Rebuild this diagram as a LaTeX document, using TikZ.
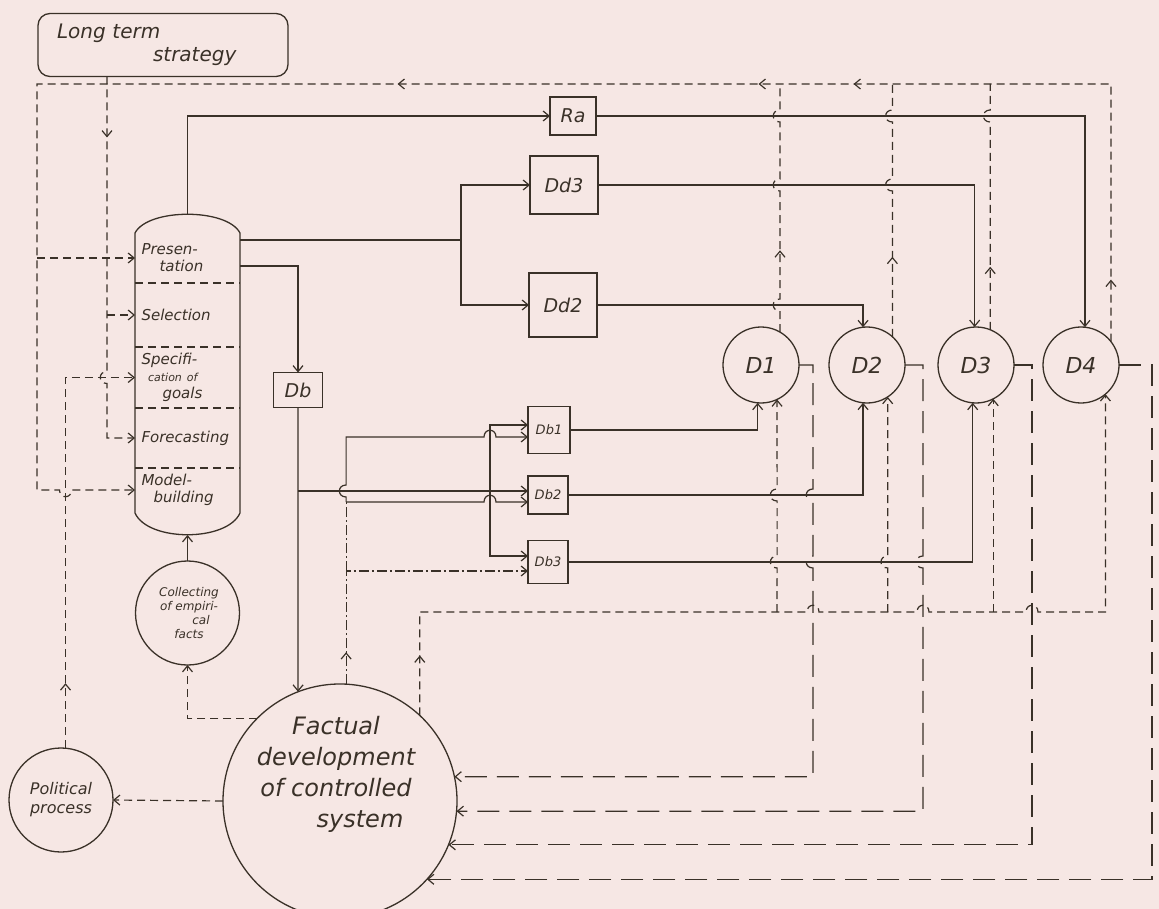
\documentclass[tikz,border=0pt]{standalone}
\usepackage{fontspec}
\setmainfont{DejaVu Sans}
\usetikzlibrary{arrows.meta,decorations.markings,calc}
\definecolor{ink}{HTML}{3A3128}
\definecolor{paper}{HTML}{F6E7E4}
\newcommand\hwf[2]{\fontsize{#1}{#2}\selectfont\itshape}
\begin{document}
\begin{tikzpicture}[x=1pt,y=-1pt,line width=1.2pt,color=ink,
  hb/.tip={Straight Barb[length=6pt,width=10pt]},
  arr/.style={-hb},
  ma/.style={postaction={decorate,decoration={markings,mark=at position #1 with {\arrow{hb}}}}},
  dsh/.style={dash pattern=on 8pt off 5pt},
  ldsh/.style={dash pattern=on 22pt off 10pt},
  ddot/.style={dash pattern=on 10pt off 3pt on 2pt off 3pt},
  box/.style={draw,rectangle,inner sep=0pt,outer sep=0pt,line width=1.3pt},
  circ/.style={draw,circle,inner sep=0pt,outer sep=0pt,line width=1.3pt},
  sec/.style={inner sep=0pt,outer sep=0pt,minimum width=105pt,text width=92pt,align=left,font=\hwf{15}{17}},
  hopx/.style 2 args={insert path={-- ({#1-6},#2) .. controls ({#1-6},{#2-9}) and ({#1+6},{#2-9}) .. ({#1+6},#2)}},
  hopxd/.style 2 args={insert path={-- ({#1-6},#2) .. controls ({#1-6},{#2+9}) and ({#1+6},{#2+9}) .. ({#1+6},#2)}},
  hopy/.style 2 args={insert path={-- (#1,{#2+6}) .. controls ({#1-9},{#2+6}) and ({#1-9},{#2-6}) .. (#1,{#2-6})}},
  hopyd/.style 2 args={insert path={-- (#1,{#2-6}) .. controls ({#1-9},{#2-6}) and ({#1-9},{#2+6}) .. (#1,{#2+6})}}
]
\fill[paper] (0,0) rectangle (1159,909);
\useasboundingbox (0,0) rectangle (1159,909);

% ---------- nodes ----------
\node[box,rounded corners=12pt,minimum width=250pt,minimum height=63pt,text width=212pt,font=\hwf{20}{23},align=left] (lts) at (163,45) {Long term\\\hspace*{4.8em}strategy};

\draw[line width=1.3pt] (135,513) -- (135,233) .. controls (148,208) and (227,208) .. (240,233) -- (240,513) .. controls (227,542) and (148,542) .. cycle;
\foreach \yy in {283,347,408,468} \draw[dsh] (135,\yy) -- (240,\yy);
\coordinate (captop) at (187.5,214);
\coordinate (capbot) at (187.5,535);
\coordinate (cap1) at (240,240);
\coordinate (cap2) at (240,266);
\node[sec,minimum height=50pt] (pres) at (187.5,258) {Presen-\\\hspace*{1.2em}tation};
\node[sec,minimum height=64pt] (sel) at (187.5,315) {Selection};
\node[sec,minimum height=61pt] (spec) at (187.5,377.5) {Specifi-\\{\hwf{11}{12}\hspace*{0.6em}cation of}\\\hspace*{1.4em}goals};
\node[sec,minimum height=60pt] (fore) at (187.5,438) {Forecasting};
\node[sec,minimum height=44pt] (model) at (187.5,490) {Model-\\\hspace*{0.8em}building};

\node[box,minimum width=46pt,minimum height=38pt,font=\hwf{19}{21}] (Ra) at (573,116) {Ra};
\node[box,minimum width=68pt,minimum height=58pt,font=\hwf{19}{21}] (Dd3) at (564,185) {Dd3};
\node[box,minimum width=68pt,minimum height=64pt,font=\hwf{19}{21}] (Dd2) at (563,305) {Dd2};
\node[box,minimum width=49pt,minimum height=35pt,font=\hwf{19}{21}] (Db) at (298,390) {Db};
\node[box,minimum width=42pt,minimum height=47pt,font=\hwf{13}{15}] (Db1) at (549,430) {Db1};
\node[box,minimum width=40pt,minimum height=38pt,font=\hwf{13}{15}] (Db2) at (548,495) {Db2};
\node[box,minimum width=40pt,minimum height=43pt,font=\hwf{13}{15}] (Db3) at (548,562) {Db3};

\node[circ,minimum size=76pt,font=\hwf{22}{24}] (D1) at (761,365) {D1};
\node[circ,minimum size=76pt,font=\hwf{22}{24}] (D2) at (867,365) {D2};
\node[circ,minimum size=76pt,font=\hwf{22}{24}] (D3) at (976,365) {D3};
\node[circ,minimum size=76pt,font=\hwf{22}{24}] (D4) at (1081,365) {D4};

\node[circ,minimum size=234pt] (fact) at (340,801) {};
\node[font=\hwf{24}{31},align=center] (facttext) at (336,774) {Factual\\development\\of controlled\\\hspace*{2em}system};
\node[circ,minimum size=104pt,font=\hwf{16}{19},align=center] (pol) at (61,800) {Political\\process};
\node[circ,minimum size=104pt] (coll) at (187.5,613) {};
\node[font=\hwf{12}{14},align=center] (colltext) at (189,613) {Collecting\\of empiri-\\\hspace*{2em}cal\\facts};

% ---------- helper coordinates ----------
\coordinate (ytop) at (0,84);
\coordinate (ybot) at (0,612);
\coordinate (xl) at (37,0);
\coordinate (xm) at (107,0);
\coordinate (j1) at (461,240);
\coordinate (j2) at (298,491);
\coordinate (j3) at (490,491);
\coordinate (db1a) at ([yshift=5pt]Db1.west);
\coordinate (db1b) at ([yshift=-7pt]Db1.west);
\coordinate (db2a) at ([yshift=4pt]Db2.west);
\coordinate (db2b) at ([yshift=-7pt]Db2.west);
\coordinate (db3a) at ([yshift=6pt]Db3.west);
\coordinate (db3b) at ([yshift=-9pt]Db3.west);

% ---------- solid connectors ----------
\draw[arr] (captop) |- (Ra.west);
\draw[arr] (Ra.east) -| (D4.84);
\draw (cap1) -- (j1);
\draw[arr] (j1) |- (Dd3.west);
\draw[arr] (j1) |- (Dd2.west);
\draw[arr] (Dd3.east) -| (D3.92);
\draw[arr] (Dd2.east) -| (D2.96);
\draw[arr] (cap2) -| (Db.north);
\draw[arr] (Db.south) -- (fact.111);
\draw[arr] (j2) -- (db2a);
\draw[arr] (j3) |- (db1a);
\draw[arr] (j3) |- (db3a);
\draw[ddot,arr,ma=32pt] (fact.87) |- (db3b);
\draw[ddot] (fact.87 |- db3b) -- (fact.87 |- db2b);
\draw[arr] (fact.87 |- db2b) [hopx={490}{502}] -- (db2b);
\draw[arr] (fact.87 |- db2b) [hopy={346.1}{491}] -- (fact.87 |- db1b) [hopx={490}{437}] -- (db1b);
\draw[arr] (Db1.east) -| (D1.265);
\draw[arr] (Db2.east) -| (D2.264);
\draw[arr] (Db3.east) -| (D3.265);
\draw[arr] (coll.north) -- (capbot);

% ---------- D outputs to factual development ----------
\draw[ldsh,arr] (D1.east) -- (813,365) [hopyd={813}{495}] [hopyd={813}{562}] |- (fact.12);
\draw[ldsh,arr] (D2.east) -- (923,365) [hopyd={923}{562}] |- (fact.355);
\draw[ldsh,arr] (D3.east) -- (1032,365) |- (fact.338);
\draw[ldsh,arr] (D4.east) -- (1152,365) |- (fact.318);

% ---------- dashed feedback from factual development to D ----------
\draw[dsh,arr,ma=60pt] (fact.47) -- (fact.47 |- ybot) [hopx={813}{612}] [hopx={923}{612}] [hopx={1032}{612}] -| (D4.310);
\draw[dsh,arr] (D1.295 |- ybot) [hopy={777.1}{562}] [hopy={777.1}{495}] -- (D1.295);
\draw[dsh,arr] (D2.303 |- ybot) [hopy={887.7}{562}] -- (D2.303);
\draw[dsh,arr] (D3.297 |- ybot) -- (D3.297);

% ---------- dashed top feedback ----------
\draw[dsh,arr,ma=62pt,ma=515pt,ma=610pt,ma=971pt] (D4.38) |- (xl |- ytop) -- (xl |- model.west) [hopxd={65.5}{490}] -- (model.west);
\draw[dsh,arr] (xl |- pres.west) -- (pres.west);
\draw[dsh,ma=90pt] (D1.60) [hopy={780}{305}] [hopy={780}{185}] [hopy={780}{116}] -- (D1.60 |- ytop);
\draw[dsh,ma=80pt] (D2.48) [hopy={892.4}{185}] [hopy={892.4}{116}] -- (D2.48 |- ytop);
\draw[dsh,ma=63pt] (D3.68) [hopy={990.2}{116}] -- (D3.68 |- ytop);

% ---------- long term strategy and political process ----------
\draw[dsh,arr,ma=61pt] (lts.south -| xm) [hopyd={107}{377.5}] |- (fore.west);
\draw[dsh,arr] (xm |- sel.west) -- (sel.west);
\draw[dsh,arr,ma=65pt] (pol.85) |- (spec.west);
\draw[dsh,arr] (fact.west) -- (pol.east);
\draw[dsh,arr] (fact.135) -| (coll.south);
\end{tikzpicture}
\end{document}
